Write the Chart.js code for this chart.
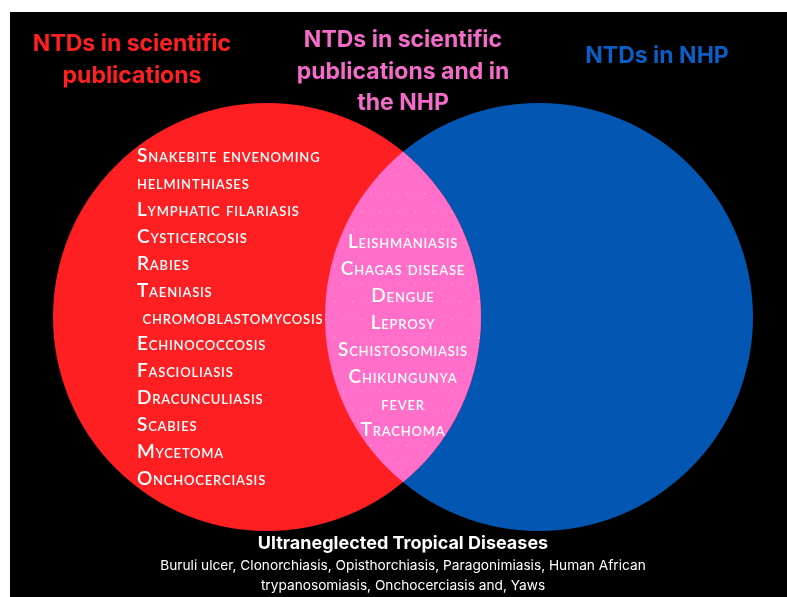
<!DOCTYPE html>
<html>
<head>
<meta charset="utf-8">
<script src="https://cdn.jsdelivr.net/npm/chart.js@4.4.1/dist/chart.umd.min.js"></script>
<style>
  body { margin: 0; background: #fff; }
  canvas { display: block; }
</style>
</head>
<body>
<canvas id="myChart" width="787" height="597"></canvas>
<script>
// sets of the diagram
const setNames = ['NTDs in scientific publications', 'NTDs in NHP'];
const setCenterX = [257, 529];
const setCenterY = [305, 305];
const setRadius = [214, 214];

// diseases in each region
const onlyPublications = ['Snakebite envenoming', 'helminthiases', 'Lymphatic filariasis', 'Cysticercosis', 'Rabies',
    'Taeniasis', ' chromoblastomycosis', 'Echinococcosis', 'Fascioliasis', 'Dracunculiasis', 'Scabies',
    'Mycetoma', 'Onchocerciasis'];
const bothSets = ['Leishmaniasis', 'Chagas disease', 'Dengue', 'Leprosy', 'Schistosomiasis', 'Chikungunya',
    'fever', 'Trachoma'];
const ultraTitle = 'Ultraneglected Tropical Diseases';
const ultraLines = ['Buruli ulcer, Clonorchiasis, Opisthorchiasis, Paragonimiasis, Human African',
    'trypanosomiasis, Onchocerciasis and, Yaws'];

const RED = '#fe1f22';
const BLUE = '#0357b3';
const PINK = '#ff6ec8';

function pxRadius(ctx) {
    const s = ctx.chart.scales.x;
    return s.getPixelForValue(ctx.raw.r) - s.getPixelForValue(0);
}

const vennPlugin = {
    id: 'venn',
    beforeDraw(chart) {
        const c = chart.ctx, a = chart.chartArea;
        c.save();
        c.fillStyle = '#000';
        c.fillRect(a.left, a.top, a.right - a.left, a.bottom - a.top);
        c.restore();
    },
    afterDatasetsDraw(chart) {
        const c = chart.ctx;
        const sx = chart.scales.x, sy = chart.scales.y;
        const A = chart.getDatasetMeta(0).data[0];
        const B = chart.getDatasetMeta(1).data[0];
        const ra = A.options.radius, rb = B.options.radius;

        // overlap
        c.save();
        c.beginPath();
        c.arc(A.x, A.y, ra, 0, Math.PI * 2);
        c.clip();
        c.beginPath();
        c.arc(B.x, B.y, rb, 0, Math.PI * 2);
        c.fillStyle = PINK;
        c.fill();
        c.clip();
        c.fillStyle = 'rgba(255,255,255,0.3)';
        for (let yy = A.y - ra, row = 0; yy < A.y + ra; yy += 18, row++) {
            for (let xx = B.x - rb; xx < A.x + ra; xx += 18) {
                c.fillRect(xx + (row % 2) * 9, yy, 1.5, 1.5);
            }
        }
        c.restore();

        function text(str, x, y, font, color, align, spacing) {
            c.font = font;
            c.fillStyle = color;
            c.textAlign = align || 'center';
            c.textBaseline = 'middle';
            c.letterSpacing = spacing || '0px';
            c.fillText(str, sx.getPixelForValue(x), sy.getPixelForValue(y));
        }

        c.save();
        const head = 'bold 23px Inter';
        text('NTDs in scientific', 122, 32, head, '#ff2024');
        text('publications', 122, 64, head, '#ff2024');
        text('NTDs in scientific', 393, 28, head, '#f56bca');
        text('publications and in', 393, 60, head, '#f56bca');
        text('the NHP', 393, 91, head, '#f56bca');
        text('NTDs in NHP', 647, 44, head, '#0b5ec6');

        const item = 'small-caps 600 19px Lato';
        onlyPublications.forEach((d, i) => {
            text(d, 127, 144 + i * 26.9, item, '#fff', 'left', '0.8px');
        });
        bothSets.forEach((d, i) => {
            text(d, 393, 230 + i * 26.9, item, '#fff', 'center', '0.8px');
        });

        text(ultraTitle, 393, 532, 'bold 18px Inter', '#fff');
        ultraLines.forEach((l, i) => {
            text(l, 393, 554 + i * 20, '13.7px Inter', '#fff');
        });
        c.restore();
    }
};

new Chart(document.getElementById('myChart'), {
    type: 'bubble',
    data: {
        datasets: setNames.map((name, i) => ({
            label: name,
            data: [{ x: setCenterX[i], y: setCenterY[i], r: setRadius[i] }],
            backgroundColor: i === 0 ? RED : BLUE,
            borderWidth: 0,
            radius: pxRadius,
            hoverRadius: 0,
            clip: false
        }))
    },
    options: {
        responsive: false,
        animation: false,
        events: [],
        layout: { autoPadding: false, padding: { left: 10, top: 12, right: 0, bottom: 0 } },
        scales: {
            x: { type: 'linear', min: 0, max: 777, display: false },
            y: { type: 'linear', min: 0, max: 585, reverse: true, display: false }
        },
        plugins: {
            legend: { display: false },
            tooltip: { enabled: false }
        }
    },
    plugins: [vennPlugin]
});
</script>
</body>
</html>
